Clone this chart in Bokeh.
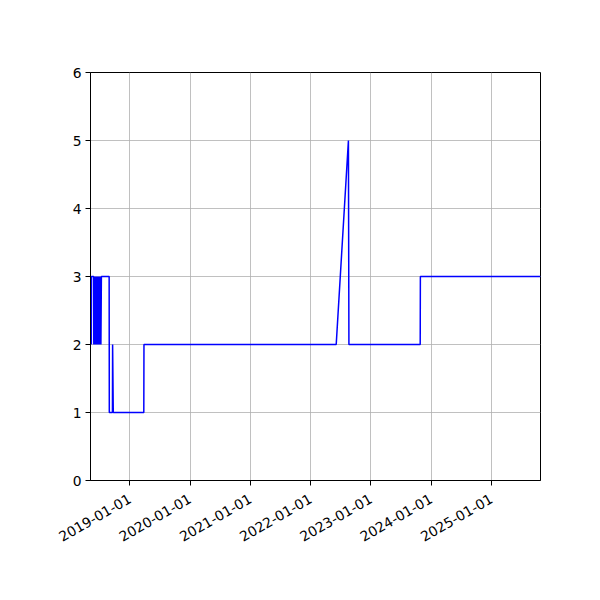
from datetime import datetime
import math

import pandas as pd
from bokeh.plotting import figure
from bokeh.models import Range1d, FixedTicker, DatetimeTickFormatter, NumeralTickFormatter
from bokeh.embed import file_html
from bokeh.resources import INLINE

# values
dates = [
    "2018-05-13", "2018-05-14", "2018-05-27", "2018-05-28", "2018-05-30",
    "2018-06-01", "2018-06-03", "2018-06-05", "2018-06-07", "2018-06-09",
    "2018-06-11", "2018-06-13", "2018-06-15", "2018-06-17", "2018-06-19",
    "2018-06-22", "2018-06-25", "2018-06-28", "2018-07-01", "2018-07-04",
    "2018-07-07", "2018-07-10", "2018-07-13", "2018-08-29", "2018-08-30",
    "2018-09-18", "2018-09-19", "2018-09-23", "2019-03-27", "2019-03-28",
    "2022-06-05", "2022-08-18", "2022-08-21", "2023-10-27", "2023-10-28",
    "2025-10-25",
]
values = [
    2, 3, 3, 2, 3,
    2, 3, 2, 3, 2,
    3, 2, 3, 2, 3,
    2, 3, 2, 3, 2,
    3, 2, 3, 3, 1,
    1, 2, 1, 1, 2,
    2, 5, 2, 2, 3,
    3,
]
tick_years = [2019, 2020, 2021, 2022, 2023, 2024, 2025]
y_ticks = [0, 1, 2, 3, 4, 5, 6]

x = pd.to_datetime(dates)

p = figure(
    width=584, height=584,
    frame_width=450, frame_height=408,
    x_axis_type="datetime",
    x_range=Range1d(datetime(2018, 5, 8), datetime(2025, 10, 25)),
    y_range=Range1d(0, 6),
    output_backend="svg", toolbar_location=None, tools="",
    min_border_left=90, min_border_top=72,
    min_border_right=44, min_border_bottom=104,
)
p.background_fill_color = "white"
p.border_fill_color = "white"
p.outline_line_color = "black"
p.outline_line_width = 1

p.line(x, values, color="blue", line_width=1.5)

ticks = [datetime(yr, 1, 1).timestamp() * 1000 for yr in tick_years]
p.xaxis.ticker = FixedTicker(ticks=ticks)
fmt = "%Y-%m-%d"
p.xaxis.formatter = DatetimeTickFormatter(
    milliseconds=fmt, seconds=fmt, minsec=fmt, minutes=fmt, hourmin=fmt,
    hours=fmt, days=fmt, months=fmt, years=fmt)
p.xaxis.major_label_orientation = math.pi / 6
p.yaxis.ticker = FixedTicker(ticks=y_ticks)
p.yaxis.formatter = NumeralTickFormatter(format="0")

for ax in (p.xaxis, p.yaxis):
    ax.axis_line_color = "black"
    ax.major_tick_line_color = "black"
    ax.major_tick_in = 0
    ax.major_tick_out = 5
    ax.minor_tick_line_color = None
    ax.major_label_text_font = "DejaVu Sans"
    ax.major_label_text_font_size = "10.4pt"
    ax.major_label_text_color = "black"
    ax.major_label_standoff = 4
p.xaxis.major_label_standoff = 12

p.grid.grid_line_color = "#b0b0b0"
p.grid.grid_line_width = 0.8

open("out.html", "w").write(file_html(p, INLINE))
